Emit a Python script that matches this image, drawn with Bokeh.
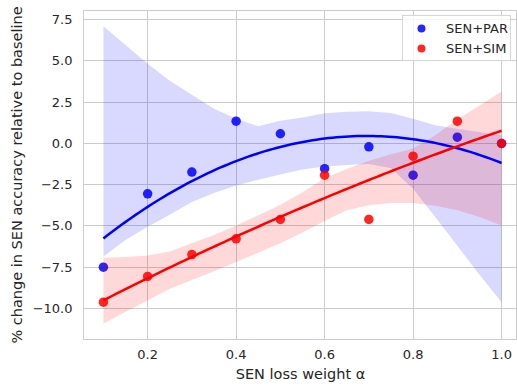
import numpy as np
from bokeh.plotting import figure
from bokeh.models import FixedTicker, Range1d, Legend, LegendItem
from bokeh.embed import file_html
from bokeh.resources import INLINE

# --- data ---
alpha_vals = [0.1, 0.2, 0.3, 0.4, 0.5, 0.6, 0.7, 0.8, 0.9, 1.0]
sen_par = [-7.5, -3.05, -1.73, 1.35, 0.59, -1.53, -0.2, -1.92, 0.38, 0.0]
sen_sim = [-9.62, -8.06, -6.73, -5.78, -4.6, -1.92, -4.6, -0.77, 1.35, 0.0]

# confidence band edges
band_x = [0.1, 0.15, 0.2, 0.25, 0.3, 0.35, 0.4, 0.45, 0.5, 0.55,
          0.6, 0.65, 0.7, 0.75, 0.8, 0.85, 0.9, 0.95, 1.0]
par_upper = [7.1, 5.97, 4.84, 3.8, 2.95, 2.1, 1.5, 1.05, 1.38, 1.58,
             1.83, 1.92, 1.96, 1.85, 1.5, 1.1, 0.9, 0.7, 0.5]
par_lower = [-6.85, -5.85, -5.05, -4.32, -3.55, -3.0, -2.55, -2.2, -1.88, -1.58,
             -1.4, -1.3, -1.25, -1.5, -2.75, -4.45, -6.2, -7.95, -9.62]
sim_upper = [-6.93, -6.88, -6.79, -6.55, -6.05, -5.55, -4.97, -4.35, -3.72, -2.95,
             -2.1, -1.55, -1.05, -0.65, -0.3, 0.5, 1.45, 2.3, 3.15]
sim_lower = [-10.93, -10.2, -9.52, -8.8, -8.28, -7.75, -7.18, -6.62, -6.05, -5.4,
             -4.7, -4.05, -3.75, -3.6, -3.6, -3.78, -4.05, -4.45, -4.97]

y_ticks = [-10.0, -7.5, -5.0, -2.5, 0.0, 2.5, 5.0, 7.5]
x_ticks = [0.2, 0.4, 0.6, 0.8, 1.0]

series_names = ["SEN+PAR", "SEN+SIM"]
BLUE = "#0000ff"
RED = "#ff0000"
TEXT = "#262626"
GRID = "#cccccc"

# quadratic regression fits (order=2)
grid = np.linspace(min(alpha_vals), max(alpha_vals), 100)
par_fit = np.polyval(np.polyfit(alpha_vals, sen_par, 2), grid)
sim_fit = np.polyval(np.polyfit(alpha_vals, sen_sim, 2), grid)

p = figure(width=517, height=388, output_backend="svg", toolbar_location=None,
           x_range=Range1d(0.055, 1.036), y_range=Range1d(-11.88, 8.06),
           min_border_left=83, min_border_right=0, min_border_top=10,
           min_border_bottom=49)
p.background_fill_color = "white"
p.border_fill_color = "white"
p.outline_line_color = GRID
p.outline_line_width = 1

# grid
p.xgrid.grid_line_color = GRID
p.ygrid.grid_line_color = GRID
p.xgrid.grid_line_width = 1
p.ygrid.grid_line_width = 1

# axes
p.xaxis.ticker = FixedTicker(ticks=x_ticks)
p.yaxis.ticker = FixedTicker(ticks=y_ticks)
p.xaxis.major_label_overrides = {t: f"{t:.1f}" for t in x_ticks}
p.yaxis.major_label_overrides = {t: f"{t:.1f}".replace("-", "\u2212") for t in y_ticks}
for ax in (p.xaxis, p.yaxis):
    ax.axis_line_color = None
    ax.major_tick_line_color = None
    ax.minor_tick_line_color = None
    ax.major_tick_out = 0
    ax.major_tick_in = 0
    ax.major_label_text_font = "DejaVu Sans"
    ax.major_label_text_font_size = "13px"
    ax.major_label_text_color = TEXT
    ax.axis_label_text_font = "DejaVu Sans"
    ax.axis_label_text_font_size = "14.5px"
    ax.axis_label_text_font_style = "normal"
    ax.axis_label_text_color = TEXT
p.xaxis.major_label_standoff = 10
p.yaxis.major_label_standoff = 11
p.xaxis.axis_label_standoff = 4
p.yaxis.axis_label_standoff = 5
p.xaxis.axis_label = "SEN loss weight \u03b1"
p.yaxis.axis_label = "% change in SEN accuracy relative to baseline"

# collections in matplotlib order: scatter, band, scatter, band; then lines
r_par = p.scatter(alpha_vals, sen_par, size=9.5, color=BLUE, alpha=0.85, line_width=0)
p.varea(x=band_x, y1=par_lower, y2=par_upper, fill_color=BLUE, fill_alpha=0.15)
r_sim = p.scatter(alpha_vals, sen_sim, size=9.5, color=RED, alpha=0.85, line_width=0)
p.varea(x=band_x, y1=sim_lower, y2=sim_upper, fill_color=RED, fill_alpha=0.15)
p.line(grid, par_fit, line_color=BLUE, line_width=2.5)
p.line(grid, sim_fit, line_color=RED, line_width=2.5)

legend = Legend(items=[LegendItem(label=series_names[0], renderers=[r_par]),
                       LegendItem(label=series_names[1], renderers=[r_sim])],
                location=(319, 278), margin=0, padding=2, spacing=0,
                glyph_width=32, glyph_height=20, label_standoff=9,
                label_text_font="DejaVu Sans", label_text_font_size="13px",
                label_text_color=TEXT, label_height=20,
                border_line_color=GRID, border_line_alpha=0.8,
                background_fill_color="white", background_fill_alpha=0.8)
p.add_layout(legend, "center")

open("out.html", "w").write(file_html(p, INLINE))
